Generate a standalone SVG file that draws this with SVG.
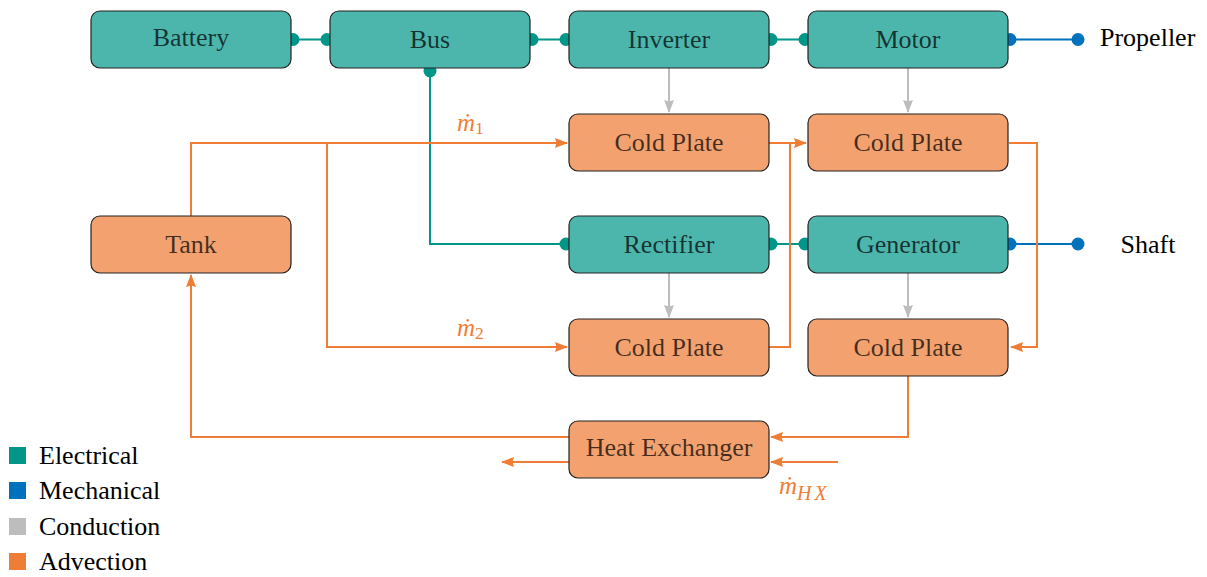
<svg xmlns="http://www.w3.org/2000/svg" width="1207" height="577" viewBox="0 0 1207 577">
<style>
  .box { stroke: #222; stroke-width: 1.2; }
  .elec { fill: #4DB6AC; }
  .therm { fill: #F2A16F; }
  .lbl { font-family: "Liberation Serif", "Times New Roman", serif; font-size: 26px; text-anchor: middle; fill: #000; fill-opacity: 0.72; }
  .ext { font-family: "Liberation Serif", "Times New Roman", serif; font-size: 26px; fill: #000; }
  .math { font-family: "Liberation Serif", "Times New Roman", serif; fill: #F07D35; }
  .ew { stroke: #009688; stroke-width: 2; fill: none; }
  .mw { stroke: #0072BD; stroke-width: 2; fill: none; }
  .cw { stroke: #BDBDBD; stroke-width: 2; fill: none; }
  .aw { stroke: #F07D35; stroke-width: 2; fill: none; }
  .ed { fill: #009688; }
  .md { fill: #0072BD; }
</style>
<defs>
  <marker id="ao" markerUnits="userSpaceOnUse" markerWidth="14" markerHeight="12" refX="12" refY="5" orient="auto">
    <path d="M0,0 L13,5 L0,10 L1.5,5 z" fill="#F07D35"/>
  </marker>
  <marker id="ag" markerUnits="userSpaceOnUse" markerWidth="14" markerHeight="12" refX="12" refY="5" orient="auto">
    <path d="M0,0 L13,5 L0,10 L1.5,5 z" fill="#BDBDBD"/>
  </marker>
</defs>

<g id="connectors">
  <!-- conduction -->
  <path class="cw" d="M669,68 V112" marker-end="url(#ag)"/>
  <path class="cw" d="M908,68 V112" marker-end="url(#ag)"/>
  <path class="cw" d="M669,273 V317" marker-end="url(#ag)"/>
  <path class="cw" d="M908,273 V317" marker-end="url(#ag)"/>
  <!-- electrical -->
  <path class="ew" d="M293,39.5 H327"/>
  <path class="ew" d="M532,39.5 H566"/>
  <path class="ew" d="M771,39.5 H805"/>
  <path class="ew" d="M430,71 V244 H566"/>
  <path class="ew" d="M771,244 H805"/>
  <!-- mechanical -->
  <path class="mw" d="M1010,39.5 H1078"/>
  <path class="mw" d="M1010,244 H1078"/>
  <!-- advection -->
  <path class="aw" d="M191,216 V143 H567" marker-end="url(#ao)"/>
  <path class="aw" d="M327,143 V347 H567" marker-end="url(#ao)"/>
  <path class="aw" d="M769,143 H806" marker-end="url(#ao)"/>
  <path class="aw" d="M769,347 H790 V143"/>
  <path class="aw" d="M1009,143 H1037 V347 H1011" marker-end="url(#ao)"/>
  <path class="aw" d="M908,376 V437 H771" marker-end="url(#ao)"/>
  <path class="aw" d="M569,437 H191 V275" marker-end="url(#ao)"/>
  <path class="aw" d="M569,462 H502" marker-end="url(#ao)"/>
  <path class="aw" d="M838,462 H771" marker-end="url(#ao)"/>
  <!-- dots -->
  <circle class="ed" cx="293" cy="39.5" r="6.5"/>
  <circle class="ed" cx="327" cy="39.5" r="6.5"/>
  <circle class="ed" cx="532" cy="39.5" r="6.5"/>
  <circle class="ed" cx="566" cy="39.5" r="6.5"/>
  <circle class="ed" cx="771" cy="39.5" r="6.5"/>
  <circle class="ed" cx="805" cy="39.5" r="6.5"/>
  <circle class="ed" cx="430" cy="71" r="6.5"/>
  <circle class="ed" cx="566" cy="244" r="6.5"/>
  <circle class="ed" cx="771" cy="244" r="6.5"/>
  <circle class="ed" cx="805" cy="244" r="6.5"/>
  <circle class="md" cx="1010" cy="39.5" r="6.5"/>
  <circle class="md" cx="1078" cy="39.5" r="6.5"/>
  <circle class="md" cx="1010" cy="244" r="6.5"/>
  <circle class="md" cx="1078" cy="244" r="6.5"/>
  <!-- flow labels -->
  <text class="math" x="457" y="131" font-size="25" font-style="italic">ṁ<tspan dy="3" font-size="17.5" font-style="normal">1</tspan></text>
  <text class="math" x="457" y="336" font-size="25" font-style="italic">ṁ<tspan dy="3" font-size="17.5" font-style="normal">2</tspan></text>
  <text class="math" x="779" y="494" font-size="25" font-style="italic">ṁ<tspan dy="6" font-size="20" letter-spacing="3">HX</tspan></text>
</g>

<g id="battery"><rect class="box elec" x="91" y="11" width="200" height="57" rx="9"/><text class="lbl" x="191" y="46">Battery</text></g>
<g id="bus"><rect class="box elec" x="330" y="11" width="200" height="57" rx="9"/><text class="lbl" x="430" y="48">Bus</text></g>
<g id="inverter"><rect class="box elec" x="569" y="11" width="200" height="57" rx="9"/><text class="lbl" x="669" y="48">Inverter</text></g>
<g id="motor"><rect class="box elec" x="808" y="11" width="200" height="57" rx="9"/><text class="lbl" x="908" y="48">Motor</text></g>
<g id="propeller"><text class="ext" x="1100" y="46">Propeller</text></g>

<g id="coldplate1"><rect class="box therm" x="569" y="114" width="200" height="57" rx="9"/><text class="lbl" x="669" y="151">Cold Plate</text></g>
<g id="coldplate2"><rect class="box therm" x="808" y="114" width="200" height="57" rx="9"/><text class="lbl" x="908" y="151">Cold Plate</text></g>

<g id="tank"><rect class="box therm" x="91" y="216" width="200" height="57" rx="9"/><text class="lbl" x="191" y="253">Tank</text></g>
<g id="rectifier"><rect class="box elec" x="569" y="216" width="200" height="57" rx="9"/><text class="lbl" x="669" y="253">Rectifier</text></g>
<g id="generator"><rect class="box elec" x="808" y="216" width="200" height="57" rx="9"/><text class="lbl" x="908" y="253">Generator</text></g>
<g id="shaft"><text class="ext" x="1148" y="253" text-anchor="middle">Shaft</text></g>

<g id="coldplate3"><rect class="box therm" x="569" y="319" width="200" height="57" rx="9"/><text class="lbl" x="669" y="356">Cold Plate</text></g>
<g id="coldplate4"><rect class="box therm" x="808" y="319" width="200" height="57" rx="9"/><text class="lbl" x="908" y="356">Cold Plate</text></g>

<g id="heatexchanger"><rect class="box therm" x="569" y="421" width="200" height="57" rx="9"/><text class="lbl" x="669" y="456">Heat Exchanger</text></g>

<g id="legend">
  <rect x="9" y="447" width="17" height="17" fill="#009688"/><text class="ext" x="39" y="464">Electrical</text>
  <rect x="9" y="482" width="17" height="17" fill="#0072BD"/><text class="ext" x="39" y="499">Mechanical</text>
  <rect x="9" y="518" width="17" height="17" fill="#BDBDBD"/><text class="ext" x="39" y="535">Conduction</text>
  <rect x="9" y="553" width="17" height="17" fill="#F07D35"/><text class="ext" x="39" y="570">Advection</text>
</g>
</svg>
